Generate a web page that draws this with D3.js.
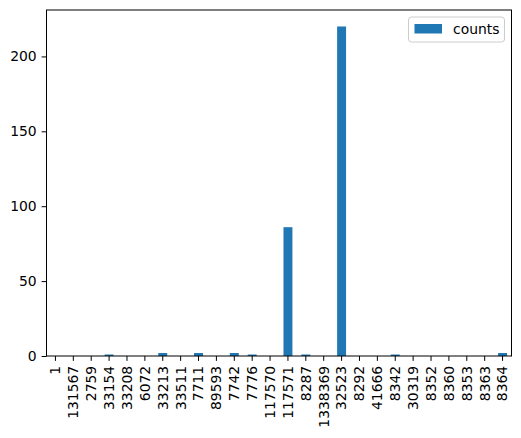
<!DOCTYPE html>
<html>
<head>
<meta charset="utf-8">
<script src="https://cdn.jsdelivr.net/npm/d3@7"></script>
<style>
  body { margin: 0; background: #fff; }
  text { font-family: "DejaVu Sans", sans-serif; }
</style>
</head>
<body>
<div id="chart"></div>
<script>
var categories = ["1", "131567", "2759", "33154", "33208", "6072", "33213", "33511", "7711", "89593",
	"7742", "7776", "117570", "117571", "8287", "1338369", "32523", "8292", "41666", "8342",
	"30319", "8352", "8360", "8353", "8363", "8364"];
var counts = [0, 0, 0, 1, 0, 0, 2, 0, 2, 0,
	2, 1, 0, 86, 1, 0, 220, 0, 0, 1,
	0, 0, 0, 0, 0, 2];
var yTicks = [0, 50, 100, 150, 200];
var seriesName = "counts";

var margin = {top: 10, right: 9.5, left: 46.5, bottom: 82},
		width = 521 - margin.left - margin.right,
		height = 438 - margin.top - margin.bottom;

var x = d3.scaleBand()
		.domain(categories)
		.range([0, width])
		.paddingInner(0.5)
		.paddingOuter(0.25);

var y = d3.scaleLinear()
		.domain([0, d3.max(counts) * 1.05])
		.range([height, 0]);

var svg = d3.select("div#chart").append("svg")
		.attr("width", 521)
		.attr("height", 438)
	.append("g")
		.attr("transform", "translate(" + margin.left + "," + margin.top + ")");

svg.selectAll("rect.bar")
	.data(counts)
	.enter()
	.append("rect")
	.attr("class", "bar")
	.attr("fill", "#1f77b4")
	.attr("x", function(d, i) { return x(categories[i]); })
	.attr("width", x.bandwidth())
	.attr("y", function(d) { return y(d); })
	.attr("height", function(d) { return height - y(d); });

var yAxis = d3.axisLeft(y)
		.tickValues(yTicks)
		.tickSize(4.9)
		.tickPadding(4.9);

var xAxis = d3.axisBottom(x)
		.tickSize(4.9)
		.tickPadding(4.9);

var gy = svg.append("g")
	.attr("class", "y axis")
	.call(yAxis);
gy.select(".domain").remove();
gy.selectAll("text")
	.attr("font-size", "13.9px")
	.attr("fill", "#000");

var gx = svg.append("g")
	.attr("class", "x axis")
	.attr("transform", "translate(0," + height + ")")
	.call(xAxis);
gx.select(".domain").remove();
gx.selectAll("text")
	.attr("font-size", "13.9px")
	.attr("fill", "#000")
	.attr("transform", "rotate(-90)")
	.attr("text-anchor", "end")
	.attr("x", -9.8)
	.attr("y", 0)
	.attr("dy", "0.35em");

// frame
svg.append("rect")
	.attr("width", width)
	.attr("height", height)
	.attr("fill", "none")
	.attr("stroke", "#000")
	.attr("stroke-width", 1);

// legend
var legend = svg.append("g")
	.attr("transform", "translate(" + (width - 103) + ",7)");
legend.append("rect")
	.attr("width", 96)
	.attr("height", 25)
	.attr("rx", 3)
	.attr("fill", "#fff")
	.attr("fill-opacity", 0.8)
	.attr("stroke", "#ccc");
legend.append("rect")
	.attr("x", 6)
	.attr("y", 7)
	.attr("width", 27.5)
	.attr("height", 9.5)
	.attr("fill", "#1f77b4");
legend.append("text")
	.attr("x", 44.5)
	.attr("y", 17)
	.attr("font-size", "13.9px")
	.text(seriesName);
</script>
</body>
</html>
